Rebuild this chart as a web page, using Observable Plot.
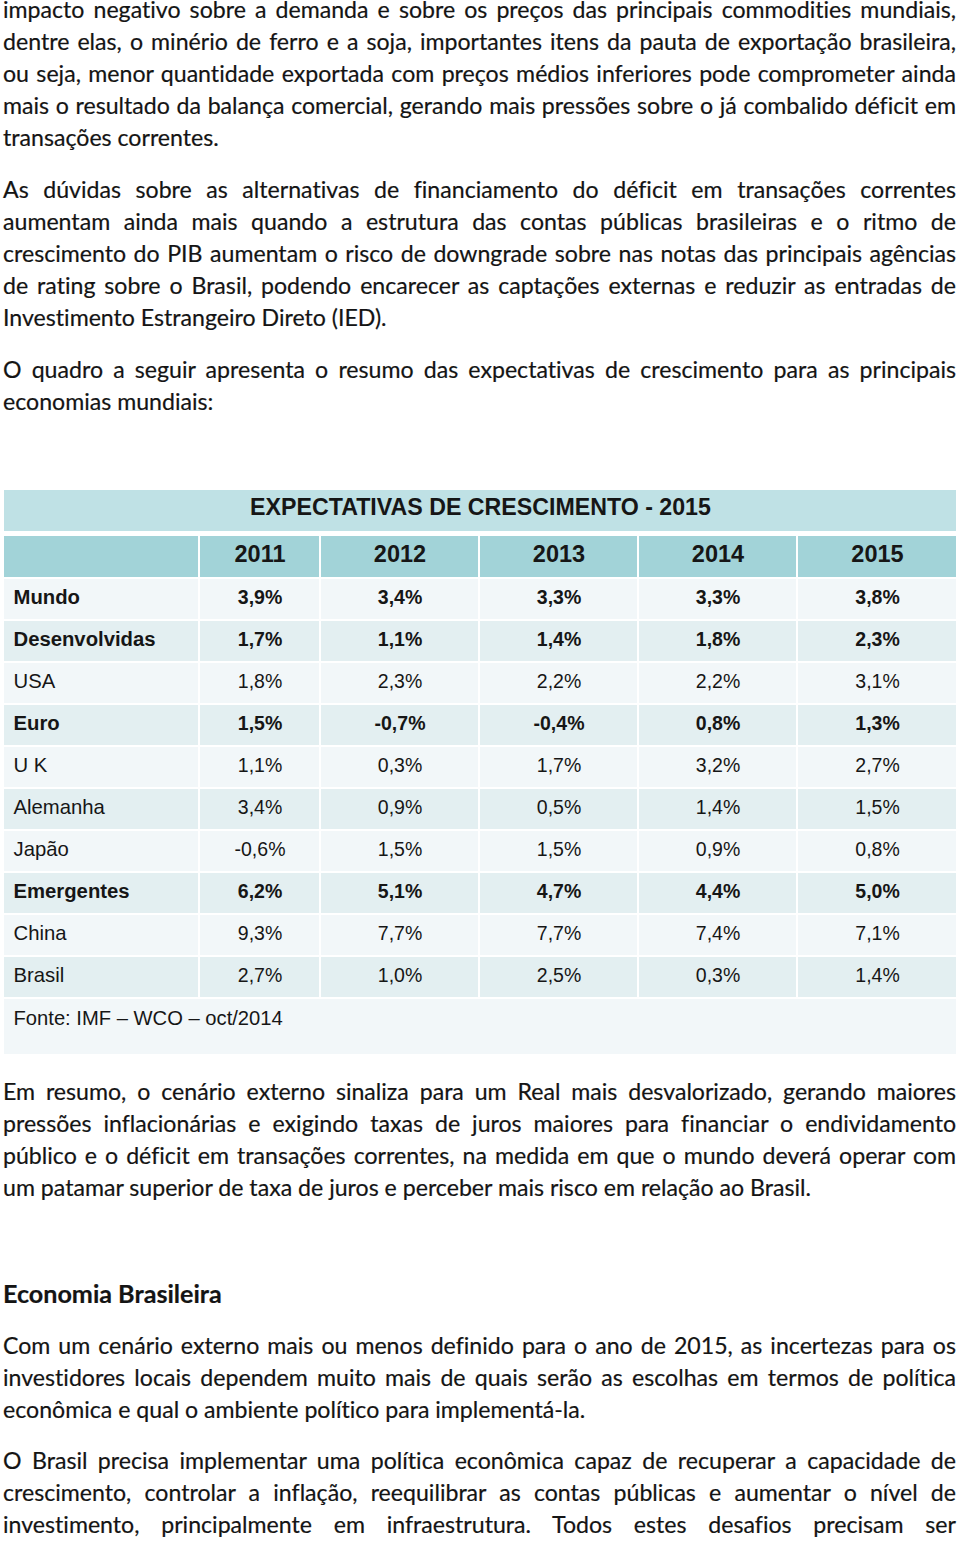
<!DOCTYPE html>
<html><head><meta charset="utf-8">
<script src="https://cdn.jsdelivr.net/npm/d3@7"></script>
<script src="https://cdn.jsdelivr.net/npm/@observablehq/plot@0.6"></script>
<style>
html,body{margin:0;padding:0;background:#fff;}
body{width:960px;height:1542px;position:relative;overflow:hidden;color:#141414;}
.ln{position:absolute;left:3px;height:18px;line-height:18px;white-space:pre;font-family:Lato,"Open Sans",sans-serif;font-variant-ligatures:none;font-kerning:normal;-webkit-text-stroke:0.2px #141414;}
#table{position:absolute;left:0;top:486px;}
</style></head><body>
<div id="page"></div>
<div id="table"></div>
<script>
// ---------- text content ----------
const para1 = [
  "impacto negativo sobre a demanda e sobre os preços das principais commodities mundiais,",
  "dentre elas, o minério de ferro e a soja, importantes itens da pauta de exportação brasileira,",
  "ou seja, menor quantidade exportada com preços médios inferiores pode comprometer ainda",
  "mais o resultado da balança comercial, gerando mais pressões sobre o já combalido déficit em",
  "transações correntes."
];
const para2 = [
  "As dúvidas sobre as alternativas de financiamento do déficit em transações correntes",
  "aumentam ainda mais quando a estrutura das contas públicas brasileiras e o ritmo de",
  "crescimento do PIB aumentam o risco de downgrade sobre nas notas das principais agências",
  "de rating sobre o Brasil, podendo encarecer as captações externas e reduzir as entradas de",
  "Investimento Estrangeiro Direto (IED)."
];
const para3 = [
  "O quadro a seguir apresenta o resumo das expectativas de crescimento para as principais",
  "economias mundiais:"
];
const para4 = [
  "Em resumo, o cenário externo sinaliza para um Real mais desvalorizado, gerando maiores",
  "pressões inflacionárias e exigindo taxas de juros maiores para financiar o endividamento",
  "público e o déficit em transações correntes, na medida em que o mundo deverá operar com",
  "um patamar superior de taxa de juros e perceber mais risco em relação ao Brasil."
];
const heading = "Economia Brasileira";
const para5 = [
  "Com um cenário externo mais ou menos definido para o ano de 2015, as incertezas para os",
  "investidores locais dependem muito mais de quais serão as escolhas em termos de política",
  "econômica e qual o ambiente político para implementá-la."
];
const para6 = [
  "O Brasil precisa implementar uma política econômica capaz de recuperar a capacidade de",
  "crescimento, controlar a inflação, reequilibrar as contas públicas e aumentar o nível de",
  "investimento, principalmente em infraestrutura. Todos estes desafios precisam ser"
];

// ---------- table data ----------
const tableTitle = "EXPECTATIVAS DE CRESCIMENTO - 2015";
const years = ["2011", "2012", "2013", "2014", "2015"];
const regions = ["Mundo", "Desenvolvidas", "USA", "Euro", "U K", "Alemanha", "Japão", "Emergentes", "China", "Brasil"];
const boldRegions = ["Mundo", "Desenvolvidas", "Euro", "Emergentes"];
const v2011 = [3.9, 1.7, 1.8, 1.5, 1.1, 3.4, -0.6, 6.2, 9.3, 2.7];
const v2012 = [3.4, 1.1, 2.3, -0.7, 0.3, 0.9, 1.5, 5.1, 7.7, 1.0];
const v2013 = [3.3, 1.4, 2.2, -0.4, 1.7, 0.5, 1.5, 4.7, 7.7, 2.5];
const v2014 = [3.3, 1.8, 2.2, 0.8, 3.2, 1.4, 0.9, 4.4, 7.4, 0.3];
const v2015 = [3.8, 2.3, 3.1, 1.3, 2.7, 1.5, 0.8, 5.0, 7.1, 1.4];
const sourceNote = "Fonte: IMF – WCO – oct/2014";

// ---------- layout (not data) ----------
const L = {
  textWidth: 953, lineH: 32,
  colEdges: [3, 199, 320, 479, 638, 797, 957],
  titleBand: [489, 532], headBand: [535, 578], rowTop: 578, rowH: 42, sourceBottom: 1055,
  svgTop: 486, svgH: 574
};

// ---------- text layout (DOM-measured) ----------
const page = document.getElementById("page");
function makeLine(text, size, weight) {
  const d = document.createElement("div");
  d.className = "ln";
  d.style.fontSize = size + "px";
  d.style.fontWeight = weight;
  const s = document.createElement("span");
  s.textContent = text;
  d.appendChild(s);
  return [d, s];
}
function natWidth(text, size, weight) {
  const [d, s] = makeLine(text, size, weight);
  d.style.top = "-500px";
  page.appendChild(d);
  const w = s.getBoundingClientRect().width;
  page.removeChild(d);
  return w;
}
function baselineOffset(size, weight) {
  const [d, s] = makeLine("Hg", size, weight);
  const m = document.createElement("span");
  m.style.display = "inline-block"; m.style.height = "0px"; m.style.width = "0px";
  d.appendChild(m);
  d.style.top = "0px";
  page.appendChild(d);
  const off = m.getBoundingClientRect().bottom - d.getBoundingClientRect().top;
  page.removeChild(d);
  return off;
}
const lastLines = [para1[4], para2[4], para3[1], para4[3], para5[2]];
const lastTargets = [215, 380, 211, 810, 586];
const bodySize = 20 * d3.sum(lastTargets) / d3.sum(lastLines, t => natWidth(t, 20, "normal"));
const headSize = 20 * 219 / natWidth(heading, 20, "bold");
const bodyOff = baselineOffset(bodySize, "normal");
const headOff = baselineOffset(headSize, "bold");

function addLine(text, baseline, justify, size, weight, off) {
  const [d, s] = makeLine(text, size, weight);
  d.style.top = (baseline - off) + "px";
  if (justify) {
    const w = natWidth(text, size, weight);
    const n = (text.match(/ /g) || []).length;
    if (n) d.style.wordSpacing = ((L.textWidth - w) / n) + "px";
  }
  page.appendChild(d);
}
function addPara(lines, firstBaseline, lastJustified) {
  lines.forEach((t, i) => {
    const isLast = i === lines.length - 1;
    addLine(t, firstBaseline + i * L.lineH, !isLast || lastJustified, bodySize, "normal", bodyOff);
  });
}
addPara(para1, 18, false);
addPara(para2, 198, false);
addPara(para3, 378, false);
addPara(para4, 1100, false);
addLine(heading, 1303, false, headSize, "bold", headOff);
addPara(para5, 1354, false);
addPara(para6, 1469, true);

// ---------- table via Plot ----------
const series = [v2011, v2012, v2013, v2014, v2015];
const fmt = v => v.toFixed(1).replace(".", ",") + "%";
const E = L.colEdges;
const C = {title: "#bfe1e5", head: "#a2d3d8", light: "#f2f7f9", dark: "#e3eff1", ink: "#161616"};

const cells = [];
cells.push({x1: E[0], x2: E[6], y1: L.titleBand[0], y2: L.titleBand[1], fill: C.title});
for (let c = 0; c < 6; c++) cells.push({x1: E[c], x2: E[c + 1], y1: L.headBand[0], y2: L.headBand[1], fill: C.head});
regions.forEach((r, i) => {
  for (let c = 0; c < 6; c++) cells.push({
    x1: E[c], x2: E[c + 1], y1: L.rowTop + i * L.rowH, y2: L.rowTop + (i + 1) * L.rowH,
    fill: i % 2 ? C.dark : C.light
  });
});
const srcTop = L.rowTop + regions.length * L.rowH;
cells.push({x1: E[0], x2: E[6], y1: srcTop, y2: L.sourceBottom, fill: C.light});

const rowMid = i => L.rowTop + (i + 0.5) * L.rowH;
const labels = regions.map((r, i) => ({x: 13, y: rowMid(i), text: r, bold: boldRegions.includes(r)}));
const values = [];
regions.forEach((r, i) => series.forEach((s, c) => values.push({
  x: (E[c + 1] + E[c + 2]) / 2, y: rowMid(i), text: fmt(s[i]), bold: boldRegions.includes(r)
})));
const heads = years.map((y, c) => ({x: (E[c + 1] + E[c + 2]) / 2, y: (L.headBand[0] + L.headBand[1]) / 2, text: y}));

const FONT = '"Liberation Sans", Arial, sans-serif';
const chart = Plot.plot({
  width: 960, height: L.svgH, margin: 0,
  x: {domain: [0, 960], range: [0, 960], axis: null},
  y: {domain: [L.svgTop, L.svgTop + L.svgH], range: [0, L.svgH], axis: null},
  color: {type: "identity"},
  style: {fontFamily: FONT, background: "transparent", overflow: "visible"},
  marks: [
    Plot.rect(cells, {x1: "x1", x2: "x2", y1: "y1", y2: "y2", fill: "fill", inset: 1}),
    Plot.text([tableTitle], {x: () => (E[0] + E[6]) / 2, y: () => (L.titleBand[0] + L.titleBand[1]) / 2, text: d => d,
      fontSize: 23.2, fontWeight: "bold", fill: C.ink, dy: -3}),
    Plot.text(heads, {x: "x", y: "y", text: "text", fontSize: 23.5, fontWeight: "bold", fill: C.ink, dy: -3}),
    Plot.text(labels.filter(d => d.bold), {x: "x", y: "y", text: "text", textAnchor: "start", fontSize: 20.3, fontWeight: "bold", fill: C.ink, dy: -2}),
    Plot.text(labels.filter(d => !d.bold), {x: "x", y: "y", text: "text", textAnchor: "start", fontSize: 20.3, fill: C.ink, dy: -2}),
    Plot.text(values.filter(d => d.bold), {x: "x", y: "y", text: "text", fontSize: 19.5, fontWeight: "bold", fill: C.ink, dy: -2}),
    Plot.text(values.filter(d => !d.bold), {x: "x", y: "y", text: "text", fontSize: 19.5, fill: C.ink, dy: -2}),
    Plot.text([sourceNote], {x: () => 13, y: () => srcTop + 20, text: d => d, textAnchor: "start", fontSize: 20.2, fill: C.ink})
  ]
});
document.getElementById("table").appendChild(chart);
</script>
</body></html>
